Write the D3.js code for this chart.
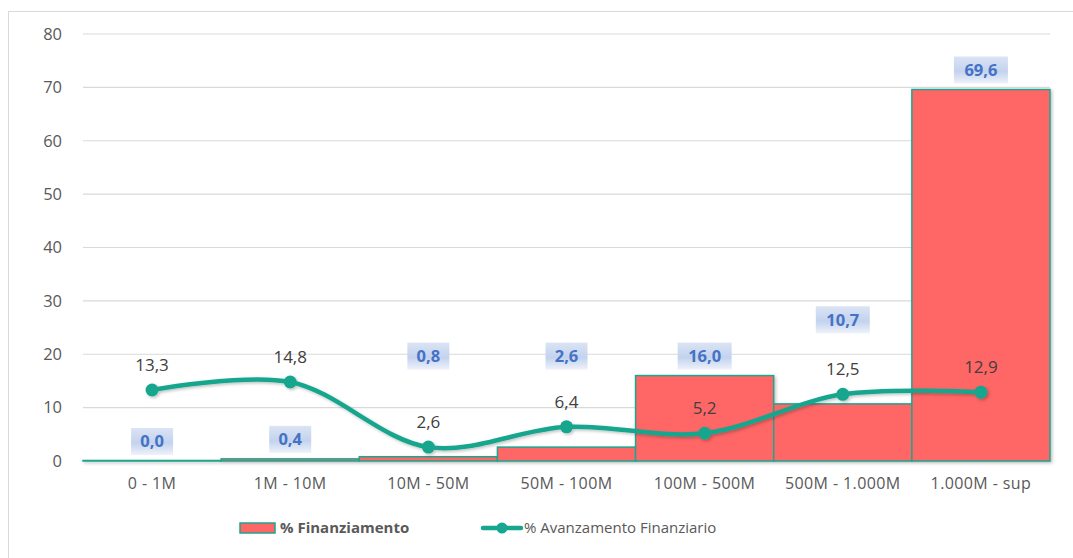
<!DOCTYPE html>
<html>
<head>
<meta charset="utf-8">
<script src="https://cdn.jsdelivr.net/npm/d3@7"></script>
<style>
  body { margin: 0; background: #fff; }
</style>
</head>
<body>
<div id="canvas"></div>
<script>
const categories = ["0 - 1M", "1M - 10M", "10M - 50M", "50M - 100M", "100M - 500M", "500M - 1.000M", "1.000M - sup"];
const finanziamento = [0.0, 0.4, 0.8, 2.6, 16.0, 10.7, 69.6];
const avanzamento = [13.3, 14.8, 2.6, 6.4, 5.2, 12.5, 12.9];
const yTicks = [0, 10, 20, 30, 40, 50, 60, 70, 80];
// labels moved by hand in the original, as a value to sit above
const barLabelAt = [null, null, 16.0, 16.0, null, 22.8, null];

const width = 1073;
const height = 558;
const margin = { top: 34, right: 23, bottom: 97, left: 83 };

const fmt = v => v.toFixed(1).replace(".", ",");

const svg = d3.select("#canvas")
    .append("svg")
    .attr("width", width)
    .attr("height", height)
    .style("font-family", "'Open Sans', sans-serif");

const defs = svg.append("defs");

const shadow = defs.append("filter")
    .attr("id", "shadow")
    .attr("x", "-10%").attr("y", "-10%")
    .attr("width", "130%").attr("height", "130%");
shadow.append("feDropShadow")
    .attr("dx", 1.5).attr("dy", 1.5)
    .attr("stdDeviation", 1.5)
    .attr("flood-color", "#000")
    .attr("flood-opacity", 0.25);

const grad = defs.append("linearGradient")
    .attr("id", "labelGrad")
    .attr("x1", 0).attr("y1", 0).attr("x2", 0).attr("y2", 1);
grad.append("stop").attr("offset", "0%").attr("stop-color", "#dbe4f4");
grad.append("stop").attr("offset", "55%").attr("stop-color", "#c3d2ee");
grad.append("stop").attr("offset", "100%").attr("stop-color", "#eef2fa");

// outer frame
svg.append("rect")
    .attr("x", 8.5)
    .attr("y", 11.5)
    .attr("width", width + 10)
    .attr("height", height + 10)
    .attr("fill", "none")
    .attr("stroke", "#d9d9d9");

const x = d3.scaleBand()
    .domain(categories)
    .range([margin.left, width - margin.right])
    .padding(0);

const y = d3.scaleLinear()
    .domain([0, 80])
    .range([height - margin.bottom, margin.top]);

// gridlines
svg.append("g")
    .selectAll("line")
    .data(yTicks)
    .join("line")
    .attr("x1", margin.left)
    .attr("x2", width - margin.right)
    .attr("y1", d => y(d))
    .attr("y2", d => y(d))
    .attr("stroke", "#d9d9d9")
    .attr("stroke-width", 1.2);

// y axis labels
svg.append("g")
    .selectAll("text")
    .data(yTicks)
    .join("text")
    .attr("x", 62)
    .attr("y", d => y(d))
    .attr("dy", "0.35em")
    .attr("text-anchor", "end")
    .attr("font-size", 16.5)
    .attr("fill", "#595959")
    .text(d => d);

// x axis labels
svg.append("g")
    .selectAll("text")
    .data(categories)
    .join("text")
    .attr("x", d => x(d) + x.bandwidth() / 2)
    .attr("y", 489)
    .attr("text-anchor", "middle")
    .attr("font-size", 16)
    .attr("letter-spacing", 0.4)
    .attr("fill", "#595959")
    .text(d => d);

// bars (zero-height bars still show their outline)
svg.append("g")
    .attr("filter", "url(#shadow)")
    .selectAll("rect")
    .data(finanziamento)
    .join("rect")
    .attr("x", (d, i) => x(categories[i]))
    .attr("y", d => Math.min(y(d), y(0) - 0.5))
    .attr("width", x.bandwidth())
    .attr("height", d => Math.max(y(0) - y(d), 0.5))
    .attr("fill", "#ff6666")
    .attr("stroke", "#1fa58f")
    .attr("stroke-width", 1.5);

// line
const line = d3.line()
    .x((d, i) => x(categories[i]) + x.bandwidth() / 2)
    .y(d => y(d))
    .curve(d3.curveCatmullRom.alpha(0.5));

const lineG = svg.append("g").attr("filter", "url(#shadow)");

lineG.append("path")
    .datum(avanzamento)
    .attr("d", line)
    .attr("fill", "none")
    .attr("stroke", "#17a68e")
    .attr("stroke-width", 4.5)
    .attr("stroke-linecap", "round");

lineG.selectAll("circle")
    .data(avanzamento)
    .join("circle")
    .attr("cx", (d, i) => x(categories[i]) + x.bandwidth() / 2)
    .attr("cy", d => y(d))
    .attr("r", 6.5)
    .attr("fill", "#17a68e");

// line labels
svg.append("g")
    .selectAll("text")
    .data(avanzamento)
    .join("text")
    .attr("x", (d, i) => x(categories[i]) + x.bandwidth() / 2)
    .attr("y", d => y(d) - 19)
    .attr("text-anchor", "middle")
    .attr("font-size", 17)
    .attr("fill", "#404040")
    .text(d => fmt(d));

// bar labels in boxes
const boxW = 42, boxH = 27;
const barLabels = svg.append("g")
    .selectAll("g")
    .data(finanziamento)
    .join("g")
    .attr("transform", (d, i) => {
        const v = barLabelAt[i] != null ? barLabelAt[i] : d;
        const cx = x(categories[i]) + x.bandwidth() / 2;
        return `translate(${cx},${y(v) - 6 - boxH / 2})`;
    });

barLabels.append("rect")
    .attr("x", d => d >= 10 ? -27 : -boxW / 2)
    .attr("y", -boxH / 2)
    .attr("width", d => d >= 10 ? 54 : boxW)
    .attr("height", boxH)
    .attr("fill", "url(#labelGrad)");

barLabels.append("text")
    .attr("text-anchor", "middle")
    .attr("dy", "0.36em")
    .attr("font-size", 16.5)
    .attr("font-weight", "bold")
    .attr("fill", "#4472c4")
    .text(d => fmt(d));

// legend
const legend = svg.append("g");

legend.append("rect")
    .attr("x", 240)
    .attr("y", 523)
    .attr("width", 35)
    .attr("height", 10)
    .attr("fill", "#ff6666")
    .attr("stroke", "#1fa58f")
    .attr("stroke-width", 1.5);

legend.append("text")
    .attr("x", 280)
    .attr("y", 528)
    .attr("dy", "0.35em")
    .attr("font-size", 15)
    .attr("font-weight", "bold")
    .attr("fill", "#595959")
    .text("% Finanziamento");

legend.append("line")
    .attr("x1", 483)
    .attr("x2", 521)
    .attr("y1", 528)
    .attr("y2", 528)
    .attr("stroke", "#17a68e")
    .attr("stroke-width", 4.5)
    .attr("stroke-linecap", "round");

legend.append("circle")
    .attr("cx", 502)
    .attr("cy", 528)
    .attr("r", 5.5)
    .attr("fill", "#17a68e");

legend.append("text")
    .attr("x", 524)
    .attr("y", 528)
    .attr("dy", "0.35em")
    .attr("font-size", 15)
    .attr("fill", "#595959")
    .text("% Avanzamento Finanziario");
</script>
</body>
</html>
